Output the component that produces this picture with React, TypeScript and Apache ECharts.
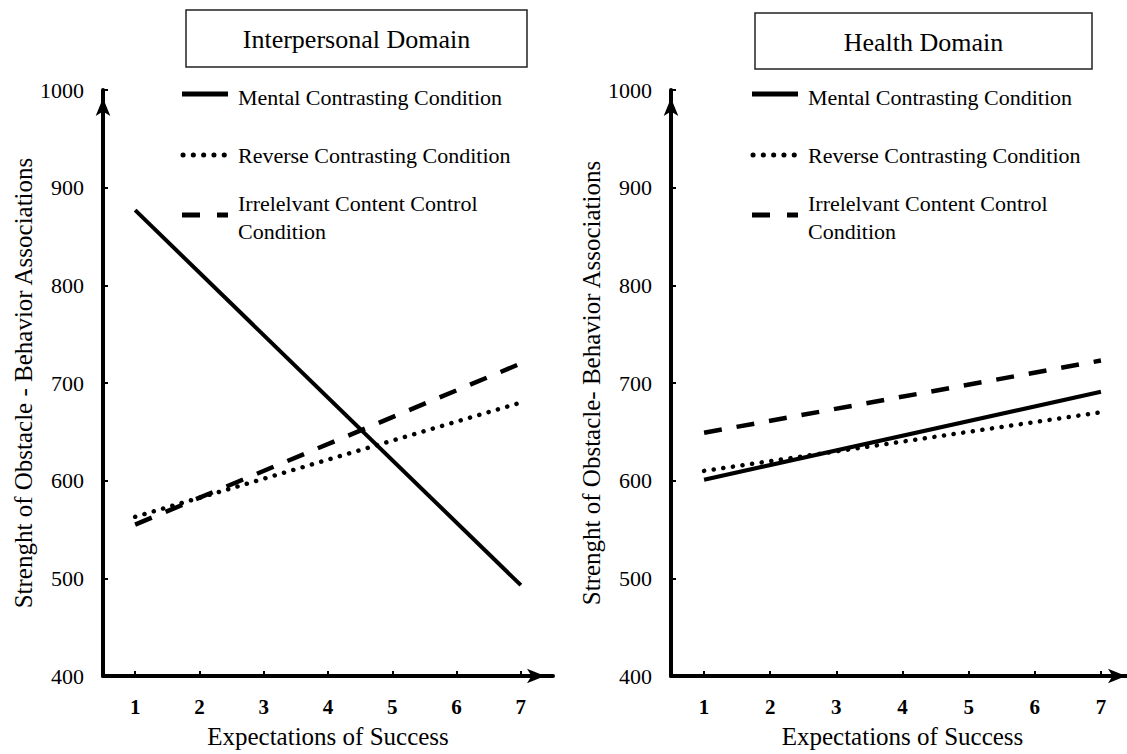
import React, { useEffect, useRef } from "react";
import * as echarts from "echarts";

const categories = ["1", "2", "3", "4", "5", "6", "7"];
const endpoints = ["1", "7"];
const yMin = 400;
const yMax = 1000;
const yStep = 100;

const panelTitles = ["Interpersonal Domain", "Health Domain"];
const yTitles = [
  "Strenght of Obstacle - Behavior Associations",
  "Strenght of Obstacle- Behavior Associations",
];
const xTitle = "Expectations of Success";
const seriesNames = [
  "Mental Contrasting Condition",
  "Reverse Contrasting Condition",
  "Irrelelvant Content Control\nCondition",
];

// Interpersonal domain
const interMental = [877, 493];
const interReverse = [563, 680];
const interControl = [555, 720];
// Health domain
const healthMental = [601, 691];
const healthReverse = [610, 670];
const healthControl = [649, 723];

const FONT = "Liberation Serif, Times New Roman, serif";

export default function App() {
  const ref = useRef<HTMLDivElement>(null);

  useEffect(() => {
    document.body.style.margin = "0";
    document.body.style.overflow = "hidden";
    document.documentElement.style.overflow = "hidden";
    if (!ref.current) return;
    const chart = echarts.init(ref.current, undefined, { renderer: "svg" });

    const styles = [
      { color: "#000", width: 4, type: "solid" as any, cap: "butt" },
      { color: "#000", width: 4.5, type: [0.1, 9.6] as any, cap: "round" },
      { color: "#000", width: 4.5, type: [18, 15] as any, cap: "butt" },
    ];

    const grids = [
      { left: 103, top: 90, width: 450, height: 590 },
      { left: 671, top: 90, width: 463, height: 590 },
    ];

    const xAxes = grids.map((_, i) => ({
      type: "category",
      gridIndex: i,
      data: categories,
      boundaryGap: true,
      name: xTitle,
      nameLocation: "middle",
      nameGap: 48,
      nameTextStyle: { fontFamily: FONT, fontSize: 25, color: "#000" },
      axisLine: {
        onZero: false,
        lineStyle: { color: "#000", width: 4 },
        symbol: ["none", "arrow"],
        symbolSize: [11, 18],
        symbolOffset: [0, -8],
      },
      axisTick: { show: true, inside: true, alignWithLabel: true, length: 5, lineStyle: { color: "#000", width: 2 } },
      axisLabel: { fontFamily: FONT, fontSize: 21, fontWeight: "bold", color: "#000", margin: 20 },
      splitLine: { show: false },
    }));

    const yAxes = grids.map((_, i) => ({
      type: "value",
      gridIndex: i,
      min: yMin,
      max: yMax,
      interval: yStep,
      name: yTitles[i],
      nameLocation: "middle",
      nameGap: 66,
      nameTextStyle: { fontFamily: FONT, fontSize: 25, color: "#000" },
      axisLine: {
        show: true,
        onZero: false,
        lineStyle: { color: "#000", width: 4 },
        symbol: ["none", "arrow"],
        symbolSize: [11, 18],
        symbolOffset: [0, -8],
      },
      axisTick: { show: true, inside: true, length: 5, lineStyle: { color: "#000", width: 2 } },
      axisLabel: {
        fontFamily: FONT,
        fontSize: 22,
        color: "#000",
        margin: 19,
        formatter: (v: number) => String(v),
      },
      splitLine: { show: false },
    }));

    const panelData = [
      [interMental, interReverse, interControl],
      [healthMental, healthReverse, healthControl],
    ];

    const series: any[] = [];
    panelData.forEach((panel, p) => {
      panel.forEach((vals, s) => {
        series.push({
          type: "line",
          name: seriesNames[s],
          xAxisIndex: p,
          yAxisIndex: p,
          data: endpoints.map((c, k) => [c, vals[k]]),
          symbol: "none",
          silent: true,
          lineStyle: styles[s],
          z: 3 - s,
        });
      });
    });

    const boxes = [
      { x: 186, y: 10, w: 341, h: 57 },
      { x: 755, y: 13, w: 337, h: 56 },
    ];
    const legendX = [182, 752];
    const legendRows = [94, 155, 215];
    const legendTextY = [[97], [155], [203, 231]];

    const graphic: any[] = [];
    boxes.forEach((b, p) => {
      graphic.push({
        type: "rect",
        shape: { x: b.x, y: b.y, width: b.w, height: b.h },
        style: { fill: "#fff", stroke: "#222", lineWidth: 1.5 },
      });
      graphic.push({
        type: "text",
        x: b.x + b.w / 2,
        y: b.y + b.h / 2 + 1,
        style: {
          text: panelTitles[p],
          fontFamily: FONT,
          fontSize: 26,
          fill: "#000",
          align: "center",
          verticalAlign: "middle",
        },
      });
      const lx = legendX[p];
      const dashes = [null, [0.1, 10.2], [18, 17]];
      legendRows.forEach((ly, s) => {
        graphic.push({
          type: "line",
          shape: { x1: lx + (s === 1 ? 1 : 0), y1: ly, x2: lx + 46, y2: ly },
          style: {
            stroke: "#000",
            lineWidth: s === 1 ? 5 : 5,
            lineDash: dashes[s] || undefined,
            lineCap: s === 1 ? "round" : "butt",
          },
        });
        const lines = seriesNames[s].split("\n");
        lines.forEach((t, k) => {
          graphic.push({
            type: "text",
            x: lx + 56,
            y: legendTextY[s][k],
            style: {
              text: t,
              fontFamily: FONT,
              fontSize: 22,
              fill: "#000",
              align: "left",
              verticalAlign: "middle",
            },
          });
        });
      });
    });

    chart.setOption({
      animation: false,
      backgroundColor: "#fff",
      grid: grids,
      xAxis: xAxes,
      yAxis: yAxes,
      series,
      graphic,
    });

    return () => {
      chart.dispose();
    };
  }, []);

  return (
    <div style={{ width: 1127, height: 754, overflow: "hidden", position: "relative" }}>
      <div ref={ref} style={{ width: 1150, height: 754, position: "absolute", left: 0, top: 0 }} />
    </div>
  );
}
